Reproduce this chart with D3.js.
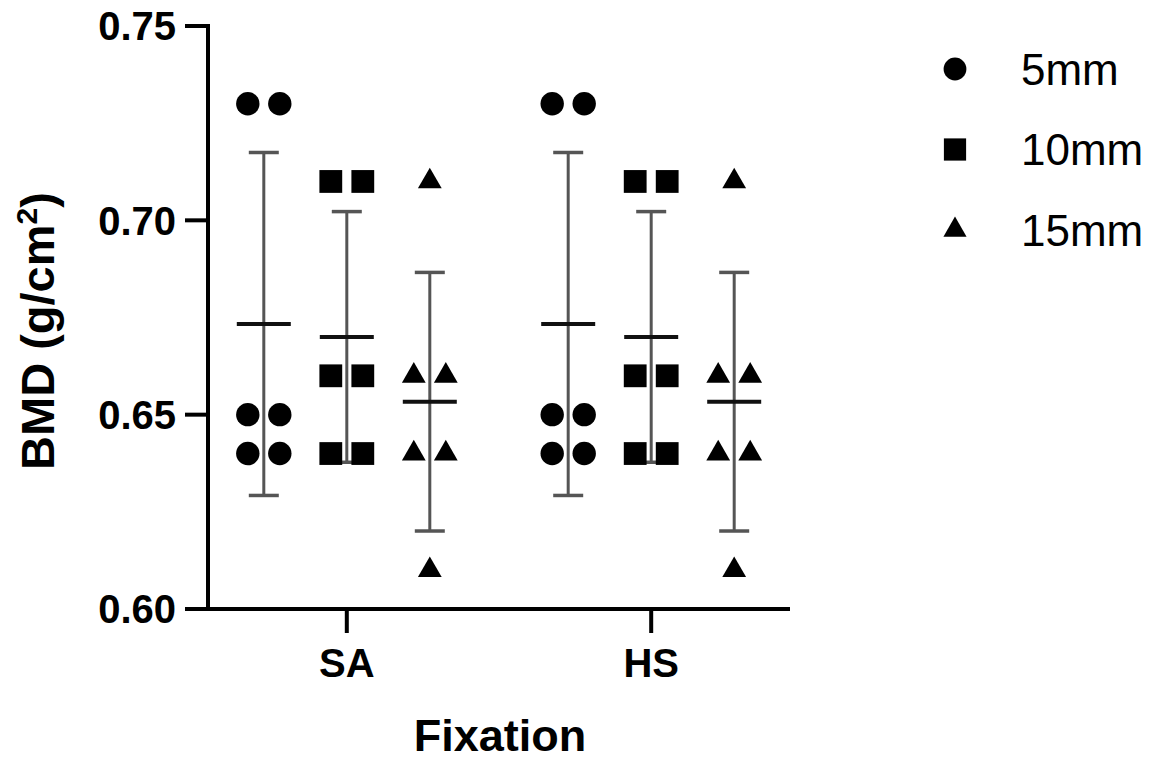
<!DOCTYPE html>
<html>
<head>
<meta charset="utf-8">
<script src="https://cdn.jsdelivr.net/npm/d3@7"></script>
<style>
  html, body { margin: 0; padding: 0; background: #fff; }
  svg { display: block; }
  text { font-family: "Liberation Sans", Arial, Helvetica, sans-serif; fill: #000; }
</style>
</head>
<body>
<svg id="chart" width="1163" height="762"></svg>
<script>
// ---- data ----
const fixations = ["SA", "HS"];
const series = ["5mm", "10mm", "15mm"];
const values5mm  = [0.73, 0.73, 0.65, 0.65, 0.64, 0.64];
const values10mm = [0.71, 0.71, 0.66, 0.66, 0.64, 0.64];
const values15mm = [0.71, 0.66, 0.66, 0.64, 0.64, 0.61];
const yTicks = [0.60, 0.65, 0.70, 0.75];
const yTickLabels = ["0.60", "0.65", "0.70", "0.75"];

// both fixations show the same values
const dataSA = { "5mm": values5mm, "10mm": values10mm, "15mm": values15mm };
const dataHS = { "5mm": values5mm, "10mm": values10mm, "15mm": values15mm };
const dataByFix = { SA: dataSA, HS: dataHS };

// ---- layout ----
const svg = d3.select("#chart");
const axisX = 208, axisLeftExt = 185, axisRight = 790;
const yTop = 26, yBottom = 609;

const y = d3.scaleLinear().domain([0.60, 0.75]).range([yBottom, yTop]);
const x = d3.scalePoint().domain(fixations).range([axisX, axisRight]).padding(0.456);
const sub = d3.scalePoint().domain(series).range([-83, 83]);
const jitter = 16;

const symbolType = { "5mm": d3.symbolCircle, "10mm": d3.symbolSquare, "15mm": d3.symbolTriangle };
const symbolSize = { "5mm": 430, "10mm": 520, "15mm": 245 };
const sym = s => d3.symbol().type(symbolType[s]).size(symbolSize[s])();

// ---- axes ----
const gAxis = svg.append("g");
gAxis.append("line").attr("x1", axisX).attr("x2", axisX)
  .attr("y1", y(0.75) - 2).attr("y2", yBottom + 2)
  .attr("stroke", "#000").attr("stroke-width", 4);
gAxis.selectAll(".yt").data(yTicks).enter().append("line")
  .attr("x1", axisLeftExt).attr("x2", axisX)
  .attr("y1", d => y(d)).attr("y2", d => y(d))
  .attr("stroke", "#000").attr("stroke-width", 4);
gAxis.selectAll(".ytl").data(yTicks).enter().append("text")
  .attr("x", 176).attr("y", d => y(d))
  .attr("dy", "0.36em")
  .attr("text-anchor", "end")
  .attr("font-size", 40).attr("font-weight", "bold")
  .text((d, i) => yTickLabels[i]);
gAxis.append("line").attr("x1", axisLeftExt).attr("x2", axisRight)
  .attr("y1", yBottom).attr("y2", yBottom)
  .attr("stroke", "#000").attr("stroke-width", 4);
gAxis.selectAll(".xt").data(fixations).enter().append("line")
  .attr("x1", d => x(d)).attr("x2", d => x(d))
  .attr("y1", yBottom).attr("y2", yBottom + 24)
  .attr("stroke", "#000").attr("stroke-width", 4);
gAxis.selectAll(".xtl").data(fixations).enter().append("text")
  .attr("x", d => x(d)).attr("y", 677)
  .attr("text-anchor", "middle")
  .attr("font-size", 40).attr("font-weight", "bold")
  .text(d => d);

// axis titles
svg.append("text").attr("x", 500).attr("y", 751)
  .attr("text-anchor", "middle").attr("font-size", 45).attr("font-weight", "bold")
  .text("Fixation");
const yt = svg.append("text")
  .attr("transform", "translate(54,331) rotate(-90)")
  .attr("text-anchor", "middle").attr("font-size", 47).attr("font-weight", "bold");
yt.append("tspan").text("BMD (g/cm");
yt.append("tspan").attr("dy", -17).attr("font-size", 30).text("2");
yt.append("tspan").attr("dy", 17).text(")");

// ---- marks ----
const groups = [];
fixations.forEach(f => series.forEach(s => {
  const vals = dataByFix[f][s];
  const mean = d3.mean(vals), sd = d3.deviation(vals);
  const cx = x(f) + sub(s);
  const counts = d3.rollup(vals, v => v.length, d => d);
  const seen = new Map();
  const pts = vals.map(v => {
    const n = counts.get(v), k = seen.get(v) || 0;
    seen.set(v, k + 1);
    const off = n === 1 ? 0 : (k - (n - 1) / 2) * 2 * jitter;
    return { v, x: cx + off };
  });
  groups.push({ f, s, cx, mean, sd, pts });
}));

const gErr = svg.append("g");
groups.forEach(g => {
  const lo = y(g.mean - g.sd), hi = y(g.mean + g.sd);
  gErr.append("line").attr("x1", g.cx).attr("x2", g.cx).attr("y1", hi).attr("y2", lo)
    .attr("stroke", "#555").attr("stroke-width", 3);
  [hi, lo].forEach(yy => gErr.append("line")
    .attr("x1", g.cx - 15).attr("x2", g.cx + 15).attr("y1", yy).attr("y2", yy)
    .attr("stroke", "#555").attr("stroke-width", 3.5));
});

const gPts = svg.append("g");
groups.forEach(g => {
  gPts.selectAll(null).data(g.pts).enter().append("path")
    .attr("d", sym(g.s))
    .attr("transform", d => `translate(${d.x},${y(d.v)})`)
    .attr("fill", "#000");
});

const gMean = svg.append("g");
groups.forEach(g => {
  gMean.append("line").attr("x1", g.cx - 27).attr("x2", g.cx + 27)
    .attr("y1", y(g.mean)).attr("y2", y(g.mean))
    .attr("stroke", "#111").attr("stroke-width", 4);
});

// ---- legend ----
const legY = d3.scalePoint().domain(series).range([69, 230]);
const leg = svg.append("g");
series.forEach(s => {
  leg.append("path").attr("d", d3.symbol().type(symbolType[s]).size(symbolSize[s] * 0.95)())
    .attr("transform", `translate(955,${legY(s)})`).attr("fill", "#000");
  leg.append("text").attr("x", 1021).attr("y", legY(s)).attr("dy", "0.36em")
    .attr("font-size", 44).text(s);
});
</script>
</body>
</html>
